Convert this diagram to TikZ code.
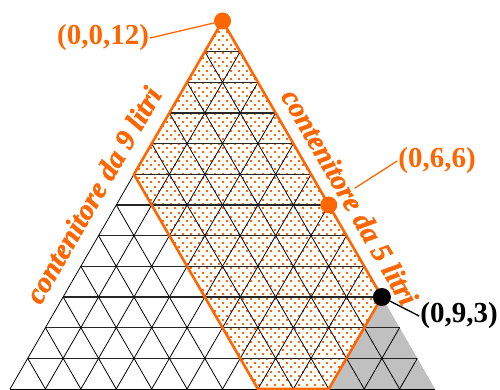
\documentclass[tikz,border=0pt]{standalone}
\usepackage{fontspec}
\setmainfont{Liberation Serif}
\newfontfamily\heavyserif{Liberation Serif}[BoldItalicFeatures={FakeBold=1.6}]
\definecolor{org}{RGB}{255,102,0}
\definecolor{gry}{RGB}{192,192,192}
\begin{document}
\begin{tikzpicture}[x=1pt,y=-1pt,
  lattice/.style={shift={(10,389)}, x={(35.42pt,0pt)}, y={(17.71pt,30.67pt)}},
  gridline/.style={line width=0.8pt, black},
  hline/.style={line width=1.1pt, black!85},
  border/.style={line width=2.6pt, org, line join=miter},
  vdot/.style={circle, fill=org, minimum size=17pt, inner sep=0pt},
  bdot/.style={circle, fill=black, minimum size=18pt, inner sep=0pt},
  coordlabel/.style={font=\fontsize{29}{32}\selectfont\bfseries, inner sep=1pt},
  sidelabel/.style={font=\fontsize{29}{32}\selectfont\heavyserif\bfseries\itshape, text=org, inner sep=0pt},
  conn/.style={line width=1.3pt}]
\fill[white] (0,0) rectangle (500,390);
\useasboundingbox (0,0) rectangle (500,390);
\begin{scope}[lattice]
  \coordinate (L) at (0,0);
  \coordinate (R) at (12,0);
  \coordinate (T) at (0,12);
  \coordinate (P07) at (0,7);
  \coordinate (P70) at (7,0);
  \coordinate (P90) at (9,0);
  \coordinate (P93) at (9,3);
  \coordinate (P66) at (6,6);
  \fill[gry] (P90) -- (R) -- (P93) -- cycle;
\end{scope}
\begin{scope}
  \clip (T) -- (P07) -- (P70) -- (P90) -- (P93) -- cycle;
  \foreach \r in {0,...,88} {
    \foreach \c in {0,...,32} {
      \fill[org] ({126+8*\c+4*mod(\r,2)}, {18+4.3*\r}) rectangle +(2,2);
    }
  }
\end{scope}
\begin{scope}[lattice]
  \foreach \k in {1,...,11} {
    \pgfmathtruncatemacro\m{12-\k}
    \draw[gridline] (\k,0) -- (\k,\m);
    \draw[gridline] (\k,0) -- (0,\k);
    \draw[hline] (0,\k) -- (\m,\k);
  }
  \draw[gridline] (L) -- (R);
  \draw[gridline] (L) -- (T);
\end{scope}
\draw[border] (T) -- (P07) -- (P70) -- (P90) -- (P93) -- cycle;
\node[vdot] (d0012) at (T) {};
\node[vdot] (d066) at (P66) {};
\node[bdot] (d093) at (P93) {};
\node[coordlabel, text=org] (l0012) at (103,38) {(0,0,12)};
\node[coordlabel, text=org] (l066) at (437,161) {(0,6,6)};
\node[coordlabel] (l093) at (459,316) {(0,9,3)};
\draw[conn, org] (l0012.east) -- (d0012);
\draw[conn, org, shorten >=22pt] (l066.west) -- (d066);
\draw[conn] (d093) -- (l093.west);
\node[sidelabel, rotate=60] (s9) at (93,195) {contenitore da 9 litri};
\node[sidelabel, rotate=-60] (s5) at (350,197) {contenitore da 5 litri};
\end{tikzpicture}
\end{document}
